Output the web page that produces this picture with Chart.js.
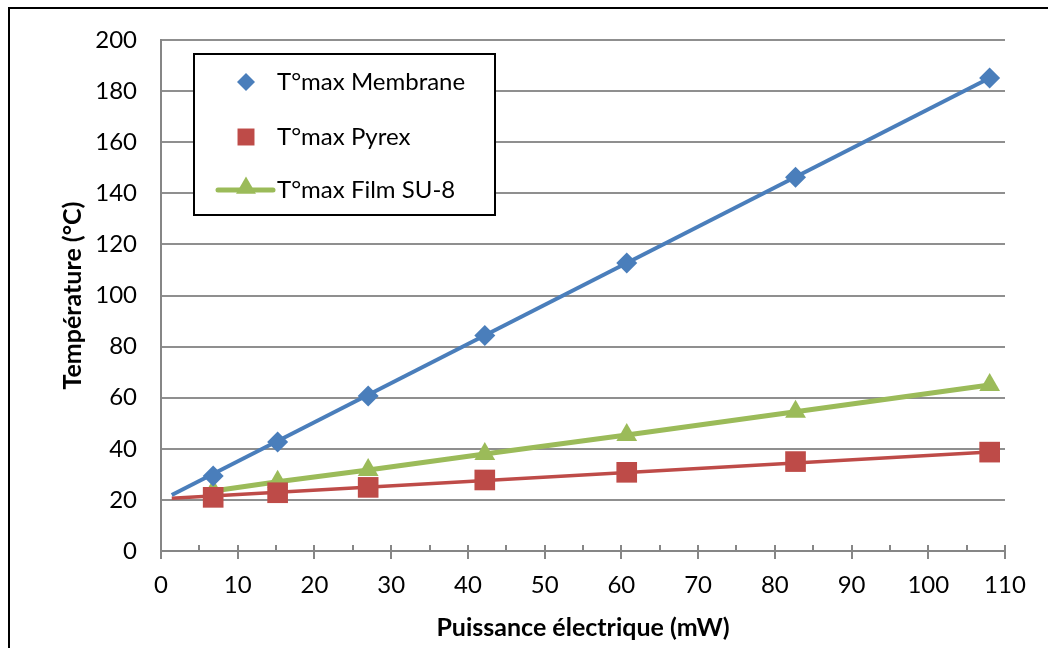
<!DOCTYPE html>
<html>
<head>
<meta charset="utf-8">
<title>Température vs puissance</title>
<script src="https://cdn.jsdelivr.net/npm/chart.js@4.4.0/dist/chart.umd.min.js"></script>
<style>
  html, body { margin: 0; padding: 0; background: #fff; }
  canvas { display: block; }
</style>
</head>
<body>
<canvas id="tempChart" width="1048" height="648"></canvas>
<script>
// valeurs
const powerMW = [6.8, 15.2, 27.0, 42.2, 60.7, 82.7, 108.0];
const tMembrane = [29.4, 42.7, 60.7, 84.3, 112.7, 146.3, 185.1];
const tPyrex = [21.0, 22.8, 24.9, 27.8, 30.8, 35.0, 38.7];
const tFilmSU8 = [23.5, 27.1, 31.7, 38.0, 45.4, 54.5, 65.0];

// courbes de tendance (extrémités lues)
const trendX = [1.4, 108.0];
const trendMembrane = [21.9, 185.1];
const trendPyrex = [20.6, 38.7];

const seriesNames = ['T°max Membrane', 'T°max Pyrex', 'T°max Film SU-8'];
const xTicks = [0, 10, 20, 30, 40, 50, 60, 70, 80, 90, 100, 110];
const yTicks = [0, 20, 40, 60, 80, 100, 120, 140, 160, 180, 200];

const BLUE = '#4a7ebb';
const RED = '#be4b48';
const GREEN = '#9bbb59';
const FONT = 'Lato, "Open Sans", sans-serif';

const toPoints = (xs, ys) => xs.map((x, i) => ({ x: x, y: ys[i] }));

// cadre extérieur + fond blanc
const frame = {
  id: 'frame',
  beforeDraw(chart) {
    const ctx = chart.ctx;
    ctx.save();
    ctx.fillStyle = '#fff';
    ctx.fillRect(0, 0, chart.width, chart.height);
    ctx.strokeStyle = '#000';
    ctx.lineWidth = 2;
    ctx.strokeRect(9, 8, 1200, 800);
    ctx.restore();
  }
};

// graduations de l'axe X (majeures traversantes, mineures intérieures)
const xTickMarks = {
  id: 'xTickMarks',
  afterDatasetsDraw(chart) {
    const ctx = chart.ctx;
    const xs = chart.scales.x;
    const y0 = chart.scales.y.getPixelForValue(0);
    ctx.save();
    ctx.strokeStyle = '#868686';
    ctx.lineWidth = 2;
    for (let v = 0; v <= 110; v += 5) {
      const px = Math.round(xs.getPixelForValue(v));
      const major = v % 10 === 0;
      ctx.beginPath();
      ctx.moveTo(px, y0 - 6);
      ctx.lineTo(px, major ? y0 + 8 : y0);
      ctx.stroke();
    }
    ctx.restore();
  }
};

// légende encadrée dans la zone de tracé
const legendBox = {
  id: 'legendBox',
  afterDraw(chart) {
    const ctx = chart.ctx;
    const draw = Chart.helpers.drawPoint;
    ctx.save();
    ctx.fillStyle = '#fff';
    ctx.fillRect(194, 54, 301, 161);
    ctx.strokeStyle = '#000';
    ctx.lineWidth = 2;
    ctx.strokeRect(194, 54, 301, 161);

    const rows = [82, 137, 190];
    const mx = 246;

    ctx.fillStyle = BLUE;
    draw(ctx, { pointStyle: 'rectRot', radius: 9, rotation: 0, borderWidth: 0 }, mx, rows[0]);
    ctx.fillStyle = RED;
    draw(ctx, { pointStyle: 'rect', radius: 12, rotation: 0, borderWidth: 0 }, mx, rows[1]);

    ctx.strokeStyle = GREEN;
    ctx.lineWidth = 5;
    ctx.lineCap = 'round';
    ctx.beginPath();
    ctx.moveTo(218, rows[2]);
    ctx.lineTo(273, rows[2]);
    ctx.stroke();
    ctx.fillStyle = GREEN;
    draw(ctx, { pointStyle: 'triangle', radius: 11.5, rotation: 0, borderWidth: 0 }, mx, rows[2] - 2);

    ctx.fillStyle = '#000';
    ctx.font = '24px ' + FONT;
    ctx.textBaseline = 'middle';
    ctx.textAlign = 'left';
    seriesNames.forEach((name, i) => ctx.fillText(name, 277, rows[i]));
    ctx.restore();
  }
};

new Chart(document.getElementById('tempChart'), {
  type: 'scatter',
  data: {
    datasets: [
      {
        label: seriesNames[0],
        data: toPoints(powerMW, tMembrane),
        showLine: false,
        pointStyle: 'rectRot',
        pointRadius: 10.5,
        backgroundColor: BLUE,
        borderWidth: 0,
        order: 1
      },
      {
        label: seriesNames[1],
        data: toPoints(powerMW, tPyrex),
        showLine: false,
        pointStyle: 'rect',
        pointRadius: 14.6,
        backgroundColor: RED,
        borderWidth: 0,
        order: 2
      },
      {
        label: seriesNames[2],
        data: toPoints(powerMW, tFilmSU8),
        showLine: true,
        borderColor: GREEN,
        borderWidth: 5,
        pointStyle: 'triangle',
        pointRadius: 12,
        pointBackgroundColor: GREEN,
        pointBorderWidth: 0,
        order: 3
      },
      {
        label: 'tendance Membrane',
        data: toPoints(trendX, trendMembrane),
        showLine: true,
        borderColor: BLUE,
        borderWidth: 4,
        pointRadius: 0,
        order: 4
      },
      {
        label: 'tendance Pyrex',
        data: toPoints(trendX, trendPyrex),
        showLine: true,
        borderColor: RED,
        borderWidth: 3.5,
        pointRadius: 0,
        order: 5
      }
    ]
  },
  options: {
    responsive: false,
    animation: false,
    layout: { padding: { left: 0, right: 43, top: 40, bottom: 0 } },
    plugins: {
      legend: { display: false },
      tooltip: { enabled: false }
    },
    scales: {
      x: {
        type: 'linear',
        min: 0,
        max: 110,
        afterFit: (s) => { s.height = 97; },
        afterBuildTicks: (s) => { s.ticks = xTicks.map((v) => ({ value: v })); },
        grid: { display: false, drawTicks: false },
        border: { display: true, color: '#868686', width: 2 },
        ticks: {
          padding: 20,
          color: '#000',
          font: { family: FONT, size: 24 }
        },
        title: {
          display: true,
          text: 'Puissance électrique (mW)',
          color: '#000',
          font: { family: FONT, size: 25, weight: 'bold' },
          padding: { top: 0, bottom: 5 }
        }
      },
      y: {
        type: 'linear',
        min: 0,
        max: 200,
        afterFit: (s) => { s.width = 161; },
        afterBuildTicks: (s) => { s.ticks = yTicks.map((v) => ({ value: v })); },
        grid: { color: '#8f8f8f', lineWidth: 2, drawTicks: false },
        border: { display: true, color: '#868686', width: 2 },
        ticks: {
          padding: 24,
          color: '#000',
          font: { family: FONT, size: 24 }
        },
        title: {
          display: true,
          text: 'Température (°C)',
          color: '#000',
          font: { family: FONT, size: 25, weight: 'bold' },
          padding: { top: 58, bottom: 0 }
        }
      }
    }
  },
  plugins: [frame, xTickMarks, legendBox]
});
</script>
</body>
</html>
